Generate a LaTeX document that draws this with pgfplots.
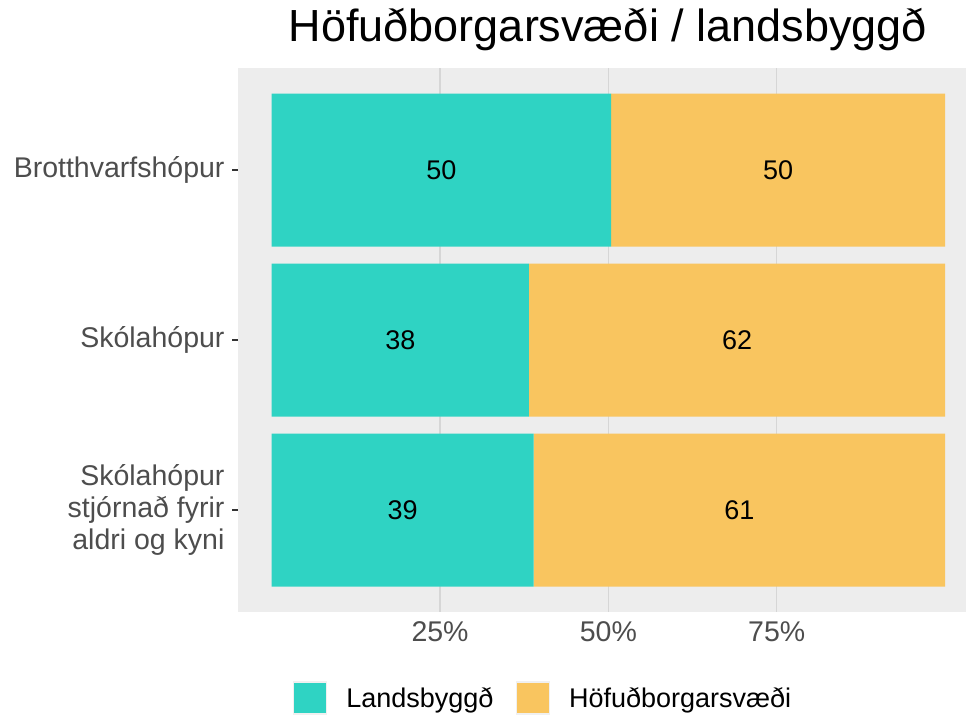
\documentclass[border=0pt]{standalone}
\usepackage{fontspec}
\setmainfont{Liberation Sans}
\usepackage{pgfplots}
\pgfplotsset{compat=1.18}
\definecolor{teal1}{HTML}{2FD3C3}
\definecolor{orng}{HTML}{F9C55F}
\definecolor{panel}{HTML}{EDEDED}
\definecolor{gridc}{HTML}{D6D6D6}
\definecolor{txt}{HTML}{4D4D4D}
\begin{document}
\begin{tikzpicture}[x=1pt,y=1pt]
\path[use as bounding box] (0,0) rectangle (966,718);
\begin{axis}[
 at={(238pt,106pt)}, anchor=south west,
 scale only axis, width=728pt, height=544pt,
 xmin=-5, xmax=103.1, ymin=0.4, ymax=3.6, y dir=reverse,
 xbar stacked, bar width=153pt,
 axis background/.style={fill=panel},
 axis line style={draw=none},
 xtick={25,50,75}, xticklabels={25\%,50\%,75\%},
 ytick={1,2,3},
 yticklabels={Brotthvarfshópur, Skólahópur, {Skólahópur\\stjórnað fyrir\\aldri og kyni}},
 xmajorgrids, grid style={gridc, line width=1.2pt},
 tick pos=left,
 x tick style={draw=none},
 y tick style={draw=black!80, line width=1.2pt},
 tick align=outside, major tick length=6pt,
 minor tick num=0,
 ticklabel style={font=\fontsize{28.5}{32}\selectfont, text=txt},
 yticklabel style={align=right, xshift=-4pt},
 title={Höfuðborgarsvæði / landsbyggð},
 title style={font=\fontsize{45}{54}\selectfont, at={(0.508,1.0386)}, anchor=base, inner sep=0pt},
 legend style={at={(0.4176,-0.158)}, anchor=center, draw=none, fill=none,
   legend columns=2, font=\fontsize{27}{32}\selectfont, text=black,
   nodes={inner sep=0pt},
   /tikz/every odd column/.append style={column sep=19pt},
   /tikz/every even column/.append style={column sep=22pt}},
]
\addplot[fill=teal1, draw=none, forget plot] coordinates {(50.4,1) (38.2,2) (38.9,3)};
\addplot[fill=orng, draw=none, forget plot] coordinates {(49.6,1) (61.8,2) (61.1,3)};
\addlegendimage{legend image code/.code={\draw[fill=teal1, draw=white!94!black, line width=1.5pt] (0pt,-16pt) rectangle (33pt,16pt);}}
\addlegendentry{Landsbyggð}
\addlegendimage{legend image code/.code={\draw[fill=orng, draw=white!94!black, line width=1.5pt] (0pt,-16pt) rectangle (33pt,16pt);}}
\addlegendentry{Höfuðborgarsvæði}
\end{axis}
\begin{axis}[
 at={(238pt,106pt)}, anchor=south west,
 scale only axis, width=728pt, height=544pt,
 xmin=-5, xmax=103.1, ymin=0.4, ymax=3.6, y dir=reverse,
 hide axis,
]
\addplot[draw=none, mark=none, nodes near coords, point meta=explicit symbolic,
  every node near coord/.append style={anchor=center, font=\fontsize{27}{32}\selectfont, text=black}]
  table[meta=lab] {
x y lab
25.2 1 50
75.2 1 50
19.1 2 38
69.1 2 62
19.45 3 39
69.45 3 61
};
\end{axis}
\end{tikzpicture}
\end{document}
